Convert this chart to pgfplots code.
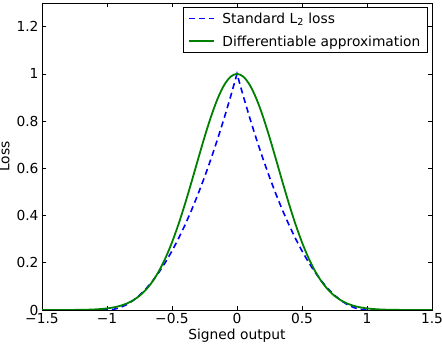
\documentclass[border=0pt]{standalone}
\usepackage{fontspec}
\setmainfont{DejaVu Sans}
\usepackage{pgfplots}
\pgfplotsset{compat=1.18}
\definecolor{mplblue}{rgb}{0,0,1}
\definecolor{mplgreen}{rgb}{0,0.5,0}
\begin{document}
\begin{tikzpicture}
\begin{axis}[
  width=390bp, height=307bp, scale only axis,
  xmin=-1.5, xmax=1.5, ymin=0, ymax=1.3,
  xtick={-1.5,-1,-0.5,0,0.5,1,1.5},
  xticklabels={−1.5,−1,−0.5,0,0.5,1,1.5},
  ytick={0,0.2,0.4,0.6,0.8,1,1.2},
  yticklabels={0,0.2,0.4,0.6,0.8,1,1.2},
  tick align=inside, major tick length=4bp,
  tick style={black, line width=0.6bp},
  axis line style={line width=0.9bp},
  ticklabel style={font=\fontsize{13.8bp}{16bp}\selectfont},
  label style={font=\fontsize{13.8bp}{16bp}\selectfont},
  xlabel={Signed output}, ylabel={Loss},
  xlabel style={yshift=2bp},
  legend cell align=left,
  legend style={at={(axis description cs:1,1)}, anchor=north east,
    xshift=-4bp, yshift=-4bp, draw=black, line width=1.3bp,
    font=\fontsize{13.8bp}{16bp}\selectfont,
    inner xsep=5bp, inner ysep=3bp, row sep=7bp,
    /tikz/every odd column/.append style={column sep=5bp}},
  legend image code/.code={\draw[#1, line width=1.7bp] (0bp,0bp) -- (25bp,0bp);},
]
\addplot[mplblue, line width=1.6bp, dash pattern=on 6bp off 4bp] coordinates {
(-1.5,0) (-1.45,0) (-1.4,0) (-1.35,0) (-1.3,0) (-1.25,0) (-1.2,0) (-1.15,0) (-1.1,0) (-1.05,0)
(-1.0,0) (-0.95,0.0025) (-0.9,0.01) (-0.85,0.0225) (-0.8,0.04) (-0.75,0.0625) (-0.7,0.09)
(-0.65,0.1225) (-0.6,0.16) (-0.55,0.2025) (-0.5,0.25) (-0.45,0.3025) (-0.4,0.36) (-0.35,0.4225)
(-0.3,0.49) (-0.25,0.5625) (-0.2,0.64) (-0.15,0.7225) (-0.1,0.81) (-0.05,0.9025) (0,1)
(0.05,0.9025) (0.1,0.81) (0.15,0.7225) (0.2,0.64) (0.25,0.5625) (0.3,0.49) (0.35,0.4225)
(0.4,0.36) (0.45,0.3025) (0.5,0.25) (0.55,0.2025) (0.6,0.16) (0.65,0.1225) (0.7,0.09)
(0.75,0.0625) (0.8,0.04) (0.85,0.0225) (0.9,0.01) (0.95,0.0025) (1.0,0)
(1.05,0) (1.1,0) (1.15,0) (1.2,0) (1.25,0) (1.3,0) (1.35,0) (1.4,0) (1.45,0) (1.5,0)
};
\addlegendentry{Standard L\textsubscript{2} loss}
\addplot[mplgreen, line width=1.8bp, smooth,
  legend image code/.code={\draw[mplgreen, line width=2bp] (0bp,0.3bp) -- (25bp,0.3bp);}] coordinates {
(-1.5,0.00001) (-1.45,0.00003) (-1.4,0.00006) (-1.35,0.00011) (-1.3,0.00021) (-1.25,0.0004)
(-1.2,0.00075) (-1.15,0.00134) (-1.1,0.00236) (-1.05,0.00404) (-1.0,0.00674) (-0.95,0.01097)
(-0.9,0.01742) (-0.85,0.02698) (-0.8,0.04076) (-0.75,0.06005) (-0.7,0.08629) (-0.65,0.12093)
(-0.6,0.1653) (-0.55,0.22036) (-0.5,0.2865) (-0.45,0.36331) (-0.4,0.44933) (-0.35,0.54199)
(-0.3,0.63763) (-0.25,0.73161) (-0.2,0.81873) (-0.15,0.8936) (-0.1,0.95123) (-0.05,0.98758)
(0,1)
(0.05,0.98758) (0.1,0.95123) (0.15,0.8936) (0.2,0.81873) (0.25,0.73161) (0.3,0.63763)
(0.35,0.54199) (0.4,0.44933) (0.45,0.36331) (0.5,0.2865) (0.55,0.22036) (0.6,0.1653)
(0.65,0.12093) (0.7,0.08629) (0.75,0.06005) (0.8,0.04076) (0.85,0.02698) (0.9,0.01742)
(0.95,0.01097) (1.0,0.00674) (1.05,0.00404) (1.1,0.00236) (1.15,0.00134) (1.2,0.00075)
(1.25,0.0004) (1.3,0.00021) (1.35,0.00011) (1.4,0.00006) (1.45,0.00003) (1.5,0.00001)
};
\addlegendentry{Differentiable approximation}
\end{axis}
\pgfresetboundingbox
\path[use as bounding box] ([xshift=-42bp,yshift=-36bp]current axis.south west) rectangle ([xshift=10bp,yshift=3bp]current axis.north east);
\end{tikzpicture}
\end{document}
